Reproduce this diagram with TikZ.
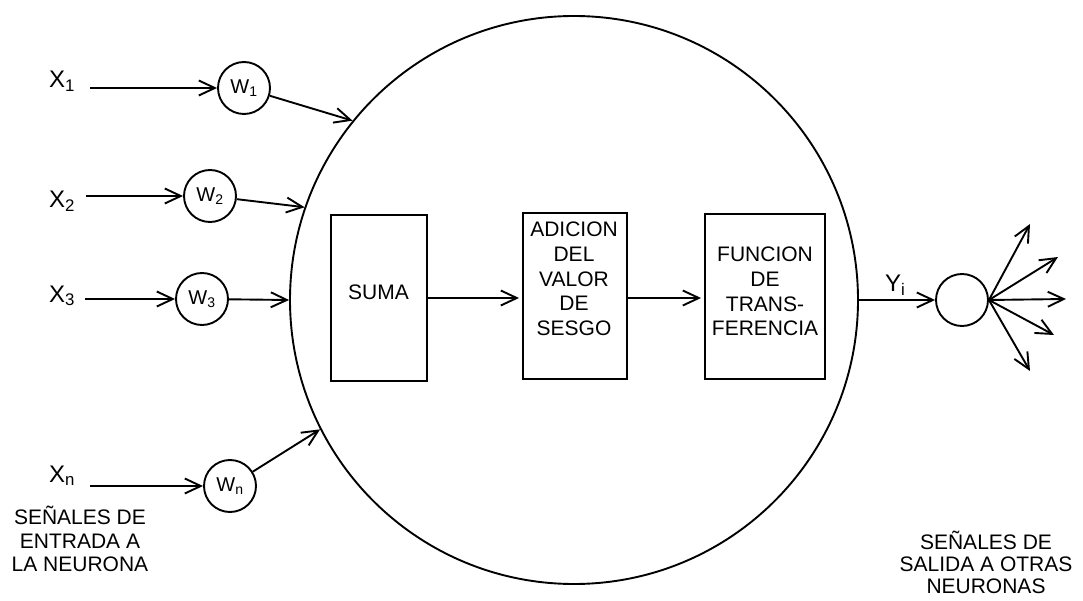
\documentclass[tikz,border=0pt]{standalone}
\usepackage{fontspec}
\setmainfont{Liberation Sans}
\usetikzlibrary{arrows.meta}
\tikzset{
  wire/.style={line width=1.9pt, -{Straight Barb[length=16pt,width=15pt,line width=1.9pt]}},
  weight/.style={circle, draw, line width=1.9pt, minimum size=52pt, inner sep=0pt, font=\fontsize{20}{22}\selectfont},
  stage/.style={rectangle, draw, line width=1.9pt, inner sep=0pt},
  stagetext/.style={align=center, inner sep=0pt, font=\fontsize{21}{24.7}\selectfont},
  inlabel/.style={anchor=base west, inner sep=0pt, font=\fontsize{24}{26}\selectfont},
  caption/.style={align=center, inner sep=0pt, anchor=south},
}
\begin{document}
\begin{tikzpicture}[x=1pt,y=-1pt]
\useasboundingbox (0,0) rectangle (1083,601);

% neuron body
\node[circle, draw, line width=1.9pt, minimum size=568pt, inner sep=0pt] (neuron) at (574,300) {};

% inputs
\node[inlabel] (x1) at (49,88) {X\textsubscript{1}};
\node[inlabel] (x2) at (49,208) {X\textsubscript{2}};
\node[inlabel] (x3) at (49,302) {X\textsubscript{3}};
\node[inlabel] (xn) at (49,482) {X\textsubscript{n}};

\coordinate (x1s) at (90,88);
\coordinate (x2s) at (86,196);
\coordinate (x3s) at (85,299);
\coordinate (xns) at (90,486);

% weights
\node[weight] (w1) at (244,88) {W\textsubscript{1}};
\node[weight] (w2) at (210,196) {W\textsubscript{2}};
\node[weight] (w3) at (202,299) {W\textsubscript{3}};
\node[weight] (wn) at (230,486) {W\textsubscript{n}};

\draw[wire] (x1s) -- (w1.west);
\draw[wire] (x2s) -- (w2.west);
\draw[wire] (x3s) -- (w3.west);
\draw[wire] (xns) -- (wn.west);

\draw[wire] (w1) -- (neuron.141.6);
\draw[wire] (w2) -- (neuron.161.9);
\draw[wire] (w3) -- (neuron.180);
\draw[wire] (wn) -- (neuron.207.75);

% processing stages
\node[stage, minimum width=96pt, minimum height=166pt] (suma) at (379,298) {};
\node[stage, minimum width=104pt, minimum height=166pt] (adic) at (575,296) {};
\node[stage, minimum width=120pt, minimum height=165pt] (func) at (765,296.5) {};

\node[stagetext] (sumaT) at (378.5,292.5) {SUMA};
\node[stagetext] (adicT) at (574,279) {ADICION\\DEL\\VALOR\\DE\\SESGO};
\node[stagetext] (funcT) at (765,291.5) {FUNCION\\DE\\TRANS-\\FERENCIA};

\draw[wire, shorten >=3pt] (suma.east |- 0,298) -- (adic.west |- 0,298);
\draw[wire, shorten >=3pt] (adic.east |- 0,298) -- (func.west |- 0,298);

% output
\node[weight] (out) at (962,300) {};
\draw[wire] (neuron.0) -- (out.west);
\node[inlabel] (yi) at (885,292) {Y\textsubscript{i}};

\coordinate (t1) at (1030,224);
\coordinate (t2) at (1058,257);
\coordinate (t3) at (1066,299);
\coordinate (t4) at (1054,335);
\coordinate (t5) at (1030,371);
\foreach \t in {t1,t2,t3,t4,t5}
  \draw[wire] (out.east) -- (\t);

% captions
\node[caption, font=\fontsize{21}{23.5}\selectfont] (capin) at (80,572) {SEÑALES DE\\ENTRADA A\\LA NEURONA};
\node[caption, font=\fontsize{21}{22}\selectfont] (capout) at (986,594) {SEÑALES DE\\SALIDA A OTRAS\\NEURONAS};
\end{tikzpicture}
\end{document}
